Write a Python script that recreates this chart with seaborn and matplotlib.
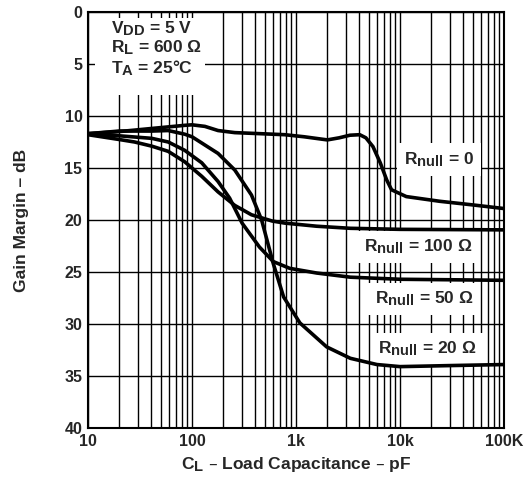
import matplotlib
matplotlib.use("Agg")
import matplotlib.pyplot as plt
import matplotlib._mathtext as _mt
from matplotlib.patches import Rectangle
import seaborn as sns
import pandas as pd
from matplotlib.ticker import LogLocator, FixedLocator, FixedFormatter, NullFormatter

# larger subscripts, like the reference typesetting
_mt.SHRINK_FACTOR = 0.85

# ---- data ----
x_r0 = [10, 20, 41, 85, 100, 133, 178, 258, 780, 1200, 2000, 2600, 3300, 4100, 4700, 5500, 6460, 7450, 8300, 11500, 24000, 50000, 100000]
y_r0 = [11.7, 11.5, 11.2, 10.9, 10.85, 11.0, 11.4, 11.6, 11.8, 12.0, 12.3, 12.1, 11.85, 11.8, 12.1, 12.95, 14.5, 16.15, 17.1, 17.75, 18.2, 18.55, 18.9]

x_r20 = [10, 20, 41, 59, 85, 100, 178, 258, 373, 467, 525, 605, 760, 1090, 1970, 3330, 6000, 10000, 30000, 100000]
y_r20 = [11.7, 11.45, 11.45, 11.4, 11.75, 12.0, 13.6, 15.2, 17.6, 20.0, 21.9, 24.2, 27.4, 29.9, 32.2, 33.3, 33.9, 34.1, 34.0, 33.9]

x_r50 = [10, 19.6, 41, 59, 85, 124, 178, 230, 303, 445, 605, 870, 1580, 3330, 10000, 100000]
y_r50 = [11.7, 11.9, 12.15, 12.5, 13.3, 14.5, 16.3, 17.9, 20.3, 22.6, 24.0, 24.65, 25.1, 25.5, 25.7, 25.8]

x_r100 = [10, 19.6, 28, 41, 59, 85, 124, 178, 258, 373, 590, 780, 1580, 3330, 10000, 100000]
y_r100 = [11.8, 12.25, 12.5, 12.9, 13.4, 14.4, 15.8, 17.3, 18.6, 19.5, 20.1, 20.3, 20.6, 20.8, 20.9, 20.95]

curve_names = ["0", "20", "50", "100"]
x_ticks = [10, 100, 1000, 10000, 100000]
x_tick_labels = ["10", "100", "1k", "10k", "100K"]
y_ticks = [0, 5, 10, 15, 20, 25, 30, 35, 40]

frames = []
for name, xs, ys in zip(curve_names, [x_r0, x_r20, x_r50, x_r100], [y_r0, y_r20, y_r50, y_r100]):
    frames.append(pd.DataFrame({"C": xs, "G": ys, "R": name}))
df = pd.concat(frames, ignore_index=True)

sns.set_style("white")
plt.rcParams["font.family"] = ["Liberation Sans", "DejaVu Sans"]
plt.rcParams["mathtext.default"] = "regular"
plt.rcParams["font.weight"] = "bold"

fig = plt.figure(figsize=(5.29, 4.83), dpi=100)
ax = fig.add_axes([0.1664, 0.1139, 0.7863, 0.8613])

ax.set_xscale("log")
ax.set_xlim(10, 100000)
ax.set_ylim(40, 0)

ax.xaxis.set_major_locator(FixedLocator(x_ticks))
ax.xaxis.set_major_formatter(FixedFormatter(x_tick_labels))
ax.xaxis.set_minor_locator(LogLocator(base=10, subs=range(2, 10), numticks=20))
ax.xaxis.set_minor_formatter(NullFormatter())
ax.set_yticks(y_ticks)

ax.grid(True, which="both", axis="x", color="black", lw=1.0)
ax.grid(True, which="major", axis="y", color="black", lw=1.0)
ax.set_axisbelow(True)

sns.lineplot(data=df, x="C", y="G", hue="R", palette=["black"] * 4, legend=False,
             lw=2.6, ax=ax, sort=False, estimator=None, zorder=3)

for sp in ax.spines.values():
    sp.set_color("black")
    sp.set_linewidth(1.5)

ax.tick_params(axis="both", which="both", length=0, labelsize=11.5, pad=4)
for lab in ax.get_xticklabels() + ax.get_yticklabels():
    lab.set_fontweight("bold")

ax.set_xlabel("C$_{L}$ – Load Capacitance – pF", fontsize=12.5, fontweight="bold", labelpad=5)
ax.set_ylabel("Gain Margin – dB", fontsize=12.5, fontweight="bold")
ax.yaxis.set_label_coords(-0.142, 0.5)

# white panel behind the conditions block
ax.add_patch(Rectangle((0.017, 0.80), 0.264, 0.186, transform=ax.transAxes,
                       facecolor="white", edgecolor="none", zorder=1.5))
ax.text(16.5, 0.7, "V$_{DD}$ = 5 V\nR$_{L}$ = 600 Ω\nT$_{A}$ = 25°C", fontsize=12.5,
        fontweight="bold", va="top", ha="left", linespacing=1.05, zorder=2.5)

labels = [("R$_{null}$ = 0", 23700, 14.2),
          ("R$_{null}$ = 100 Ω", 15100, 22.6),
          ("R$_{null}$ = 50 Ω", 17000, 27.6),
          ("R$_{null}$ = 20 Ω", 18200, 32.4)]
for txt, xx, yy in labels:
    ax.text(xx, yy, txt, fontsize=12.5, fontweight="bold", ha="center", va="center",
            bbox=dict(facecolor="white", edgecolor="none", pad=5), zorder=2.5)

fig.savefig("out.png", dpi=100)
